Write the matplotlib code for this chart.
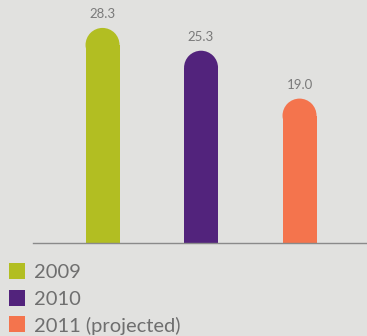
import matplotlib.pyplot as plt
from matplotlib.patches import Ellipse, Rectangle

# values per year
years = ['2009', '2010', '2011 (projected)']
values = [28.3, 25.3, 19.0]
colors = ['#b2be22', '#52237c', '#f4744d']

bg = '#e1e1df'
W, H = 367, 336
dpi = 100

fig = plt.figure(figsize=(W / dpi, H / dpi), dpi=dpi, facecolor=bg)

# axes placed in pixel terms: baseline at y=243, left edge x=33
ax = fig.add_axes([33 / W, (H - 243) / H, (W - 33) / W, 243 / H])
ax.set_facecolor(bg)
ax.set_xlim(-0.706, 2.685)
ax.set_ylim(0, 243 / 7.6)

bw = 0.345
ry = 17 / 7.6  # cap radius in data units (vertical)
for i, (v, c) in enumerate(zip(values, colors)):
    ax.bar(i, v - ry, width=bw, color=c, linewidth=0)
    ax.add_patch(Ellipse((i, v - ry), bw, 2 * ry, color=c, linewidth=0))
    ax.text(i, v + 1.0, f'{v:.1f}', ha='center', va='bottom',
            fontsize=9.5, family='Lato', color='#7a7a7a')

for s in ['top', 'right', 'left']:
    ax.spines[s].set_visible(False)
ax.spines['bottom'].set_color('#8a8a8a')
ax.spines['bottom'].set_linewidth(1.0)
ax.set_xticks([])
ax.set_yticks([])

# legend drawn by hand below the axis
for k, (lab, c) in enumerate(zip(years, colors)):
    top = 263 + k * 26.6
    fig.add_artist(Rectangle((9 / W, (H - top - 16) / H), 16 / W, 16 / H,
                             transform=fig.transFigure, color=c, linewidth=0))
    fig.text(34 / W, (H - top - 15.5) / H, lab, ha='left', va='baseline',
             fontsize=14.5, family='Lato', color='#6f6f6f')

fig.savefig('out.png', dpi=dpi, facecolor=bg)
